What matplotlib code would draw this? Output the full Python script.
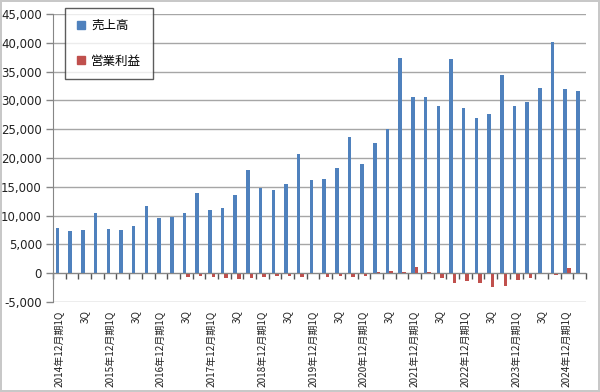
import matplotlib
matplotlib.use("Agg")
import matplotlib.pyplot as plt
from matplotlib.lines import Line2D
import numpy as np

plt.rcParams['font.family'] = ['Noto Sans CJK JP', 'DejaVu Sans']

years = list(range(2014, 2025))
quarters = [f"{y}年12月期{q}Q" for y in years for q in (1, 2, 3, 4)][:42]

sales = [7800, 7300, 7550, 10500, 7600, 7450, 8200, 11700, 9500, 9800,
         10500, 13850, 10950, 11350, 13600, 17900, 14800, 14500, 15450, 20650,
         16100, 16300, 18350, 23700, 19000, 22550, 25100, 37350, 30550, 30650,
         29050, 37200, 28650, 27000, 27600, 34400, 29000, 29650, 32100, 40150,
         31900, 31600]

op_profit = [-60, -80, -60, -100, -60, -60, -80, -120, -100, -150,
             -650, -550, -580, -800, -950, -900, -580, -520, -400, -640,
             -100, -720, -460, -640, -460, 230, 350, 230, 1150, 170,
             -920, -1650, -1270, -1750, -2480, -2280, -1230, -880, -100, -380,
             830, 100]

tick_labels = []
for i, q in enumerate(quarters):
    if i % 4 == 0:
        tick_labels.append(q)
    elif i % 4 == 2:
        tick_labels.append("3Q")
    else:
        tick_labels.append("")

blue = '#4F81BD'
red = '#C0504D'
grid_c = '#A6A6A6'

fig = plt.figure(figsize=(6, 3.92), dpi=100)
fig.patch.set_edgecolor('#C8C8C8')
fig.patch.set_linewidth(1.5)
ax = fig.add_axes([53/600, 1-302/392, 533/600, 288/392])

n = len(sales)
x = np.arange(n)
w = 0.28
ax.bar(x - w/2, sales, width=w, color=blue, zorder=3)
ax.bar(x + w/2, op_profit, width=w, color=red, zorder=3)

ax.set_xlim(-0.5, n - 0.5)
ax.set_ylim(-5000, 45000)
ax.set_yticks(np.arange(-5000, 45001, 5000))
ax.set_yticklabels([f"{v:,}" for v in range(-5000, 45001, 5000)],
                   family=['DejaVu Sans'], fontsize=8.5, color='#222222')
ax.yaxis.grid(True, color=grid_c, linewidth=1, zorder=0)
ax.tick_params(axis='y', length=5, width=1, color='#868686', pad=3)

for s in ['top', 'right']:
    ax.spines[s].set_visible(False)
ax.spines['left'].set_color('#868686')
ax.spines['bottom'].set_position(('data', 0))
ax.spines['bottom'].set_color('#868686')
ax.spines['bottom'].set_zorder(4)
ax.set_xticks(np.arange(-0.5, n, 1.0))
ax.set_xticklabels([])
ax.tick_params(axis='x', length=4, width=1, color='#555555', direction='out')

sec = ax.secondary_xaxis('bottom')
sec.spines['bottom'].set_visible(False)
sec.set_xticks(x)
sec.set_xticklabels(tick_labels, rotation=90, fontsize=7.2, color='#222222')
sec.tick_params(length=0, pad=6)

handles = [Line2D([], [], marker='s', linestyle='none', color=blue, markersize=6),
           Line2D([], [], marker='s', linestyle='none', color=red, markersize=6)]
leg = fig.legend(handles, ['売上高', '営業利益'], loc='upper left',
                 bbox_to_anchor=(65/600, 1-8/392), frameon=True, fancybox=False,
                 edgecolor='#333333', fontsize=9, labelspacing=1.8,
                 handlelength=0.8, handletextpad=0.4, borderpad=0.9,
                 borderaxespad=0)
leg.get_frame().set_linewidth(1.0)

fig.savefig('out.png', dpi=100)
